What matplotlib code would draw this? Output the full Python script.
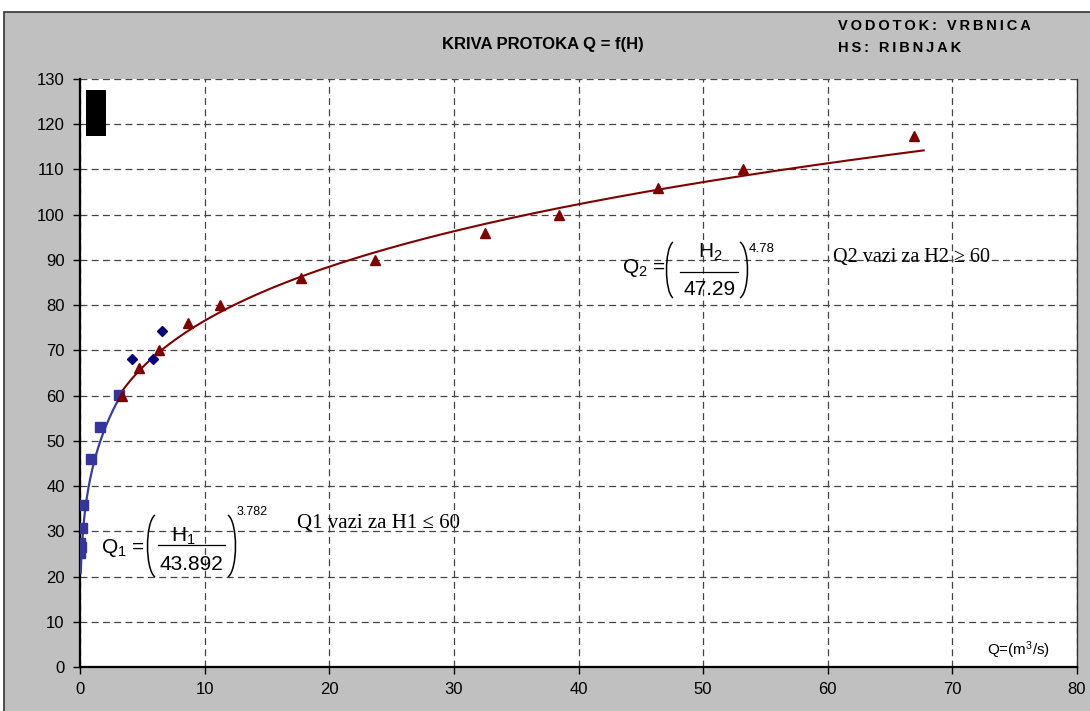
#!/usr/bin/env python3
"""Rating curve Q = f(H) for the Vrbnica river, Ribnjak gauging station."""

import matplotlib

matplotlib.use("Agg")
import matplotlib.pyplot as plt
import numpy as np
from matplotlib.lines import Line2D
from matplotlib.patches import PathPatch, Rectangle
from matplotlib.path import Path

# measured points, discharge Q (m3/s) vs stage H (cm)
Q_LOW = [0.0, 0.04, 0.08, 0.16, 0.24, 0.88, 1.6, 3.15]
H_LOW = [25.2, 27.5, 26.5, 30.7, 35.8, 46.0, 53.1, 60.1]

Q_EXTRA = [4.17, 5.86, 6.58]
H_EXTRA = [68.1, 68.1, 74.3]

Q_HIGH = [3.4, 4.7, 6.3, 8.7, 11.2, 17.7, 23.7, 32.5, 38.4, 46.4, 53.2, 66.9]
H_HIGH = [60, 66, 70, 76, 80, 86, 90, 96, 100, 106, 110, 117.4]

# fitted rating curves Q = (H / a) ** b
FIT_LOW = (43.892, 3.782)
FIT_HIGH = (47.29, 4.78)
Q_RANGE_LOW = (0.06, 3.3)
Q_RANGE_HIGH = (3.3, 67.7)

X_TICKS = list(range(0, 81, 10))
Y_TICKS = list(range(0, 131, 10))

W, H = 1090, 711
BG = "#c0c0c0"
RED = "#800000"
BLUE_LINE = "#3b3ba8"
BLUE_SQ = "#3535a0"
BLUE_DIA = "#000080"

plt.rcParams["font.family"] = ["Liberation Sans", "DejaVu Sans"]
plt.rcParams["mathtext.fontset"] = "custom"
plt.rcParams["mathtext.rm"] = "Liberation Sans"
plt.rcParams["mathtext.it"] = "Liberation Sans"
plt.rcParams["mathtext.bf"] = "Liberation Sans:bold"


def stage_from_discharge(q, fit):
    a, b = fit
    return a * np.power(q, 1.0 / b)


def spaced(text: str) -> str:
    return "\u2009".join(text)


def fx(px: float) -> float:
    return px / W


def fy(py: float) -> float:
    return 1.0 - py / H


def paren(fig, tip: float, belly: float, top: float, bot: float) -> None:
    """Tall thin bracket drawn as one cubic curve (pixel coords, y down)."""
    ctrl = (belly - 0.25 * tip) / 0.75
    h = bot - top
    verts = [(tip, top), (ctrl, top + 0.12 * h), (ctrl, bot - 0.12 * h), (tip, bot)]
    verts = [(fx(x), fy(y)) for x, y in verts]
    codes = [Path.MOVETO, Path.CURVE4, Path.CURVE4, Path.CURVE4]
    fig.add_artist(PathPatch(Path(verts, codes), transform=fig.transFigure,
                             fill=False, edgecolor="black", lw=1.1))


def formula(fig, idx, den, power, geo) -> None:
    """Q_i = (H_i / den) ** power, laid out in pixel positions."""
    size = 15
    qx, qy = geo["q"]
    fig.text(fx(qx), fy(qy), rf"$\mathrm{{Q_{idx}}}$ =", fontsize=size,
             ha="left", va="baseline")
    nx, ny = geo["num"]
    fig.text(fx(nx), fy(ny), rf"$\mathrm{{H_{idx}}}$", fontsize=size,
             ha="center", va="baseline")
    dx, dy = geo["den"]
    fig.text(fx(dx), fy(dy), den, fontsize=size, ha="center", va="baseline")
    bx0, bx1, by = geo["bar"]
    fig.add_artist(Line2D([fx(bx0), fx(bx1)], [fy(by), fy(by)], transform=fig.transFigure,
                          color="black", lw=0.9))
    top, bot = geo["span"]
    lt, lb = geo["left"]
    rt, rb = geo["right"]
    paren(fig, lt, lb, top, bot)
    paren(fig, rt, rb, top, bot)
    ex, ey = geo["pow"]
    fig.text(fx(ex), fy(ey), power, fontsize=geo["pow_size"], ha="left", va="baseline")


def main() -> None:
    fig = plt.figure(figsize=(W / 100, H / 100), dpi=100, facecolor="white")
    # grey chart area with a dark frame
    fig.patches.append(
        Rectangle((0.004, -0.01), 1.02, 0.993, transform=fig.transFigure,
                  facecolor=BG, edgecolor="#333333", linewidth=1.2, zorder=-1)
    )

    ax = fig.add_axes([fx(80), fy(667), fx(1077) - fx(80), fy(79) - fy(667)])
    ax.set_facecolor("white")

    q1 = np.linspace(*Q_RANGE_LOW, 200)
    ax.plot(q1, stage_from_discharge(q1, FIT_LOW), color=BLUE_LINE, lw=1.6, zorder=3)
    q2 = np.linspace(*Q_RANGE_HIGH, 300)
    ax.plot(q2, stage_from_discharge(q2, FIT_HIGH), color=RED, lw=1.5, zorder=3)

    ax.plot(Q_LOW, H_LOW, "s", color=BLUE_SQ, ms=6.5, zorder=4)
    ax.plot(Q_EXTRA, H_EXTRA, "D", color=BLUE_DIA, ms=5, zorder=4)
    ax.plot(Q_HIGH, H_HIGH, "^", color=RED, ms=7, zorder=5)

    ax.set_xlim(0, 80)
    ax.set_ylim(0, 130)
    ax.set_xticks(X_TICKS)
    ax.set_yticks(Y_TICKS)
    ax.tick_params(labelsize=12, length=5, width=1, colors="black", pad=6)
    ax.grid(True, color="#444444", linestyle=(0, (5.5, 3.5)), linewidth=0.9)
    ax.set_axisbelow(True)
    for side in ("left", "bottom"):
        ax.spines[side].set_linewidth(1.6)
        ax.spines[side].set_color("black")
    ax.spines["right"].set_color("#333333")
    ax.spines["right"].set_linewidth(1.0)
    ax.spines["top"].set_visible(False)

    # leftover legend marker
    ax.add_patch(Rectangle((0.006, 0.903), 0.02, 0.078, transform=ax.transAxes,
                           facecolor="black", edgecolor="none", zorder=6))

    ax.text(17.4, 30.7, "Q1 vazi za H1 \u2264 60", family=["Liberation Serif"],
            fontsize=15, va="baseline", ha="left", zorder=6)
    ax.text(60.4, 89.5, "Q2 vazi za H2 \u2265 60", family=["Liberation Serif"],
            fontsize=14.5, va="baseline", ha="left", zorder=6)
    ax.text(0.973, 0.029, "Q=(m$^3$/s)", transform=ax.transAxes, fontsize=11,
            ha="right", va="center", zorder=6)

    formula(fig, 1, "43.892", "3.782", {
        "q": (101, 553), "num": (183, 542), "den": (191.5, 570),
        "bar": (158, 225, 545), "span": (515, 577),
        "left": (155, 147.5), "right": (228, 235.5),
        "pow": (237, 515), "pow_size": 9,
    })
    formula(fig, 2, "47.29", "4.78", {
        "q": (622, 273), "num": (710.5, 258), "den": (710, 295),
        "bar": (680, 738, 272), "span": (242, 298),
        "left": (673, 666.5), "right": (740, 747.5),
        "pow": (749, 252), "pow_size": 9.6,
    })

    fig.text(0.498, 0.938, "KRIVA PROTOKA Q = f(H)", fontsize=12, fontweight="bold",
             ha="center", va="center")
    fig.text(0.769, 0.963, spaced("VODOTOK: VRBNICA"), fontsize=10.5, fontweight="bold",
             family=["Liberation Sans", "DejaVu Sans"], ha="left", va="center")
    fig.text(0.769, 0.933, spaced("HS: RIBNJAK"), fontsize=10.5, fontweight="bold",
             family=["Liberation Sans", "DejaVu Sans"], ha="left", va="center")

    fig.savefig("out.png", dpi=100, facecolor=fig.get_facecolor())
    plt.close(fig)


if __name__ == "__main__":
    main()
